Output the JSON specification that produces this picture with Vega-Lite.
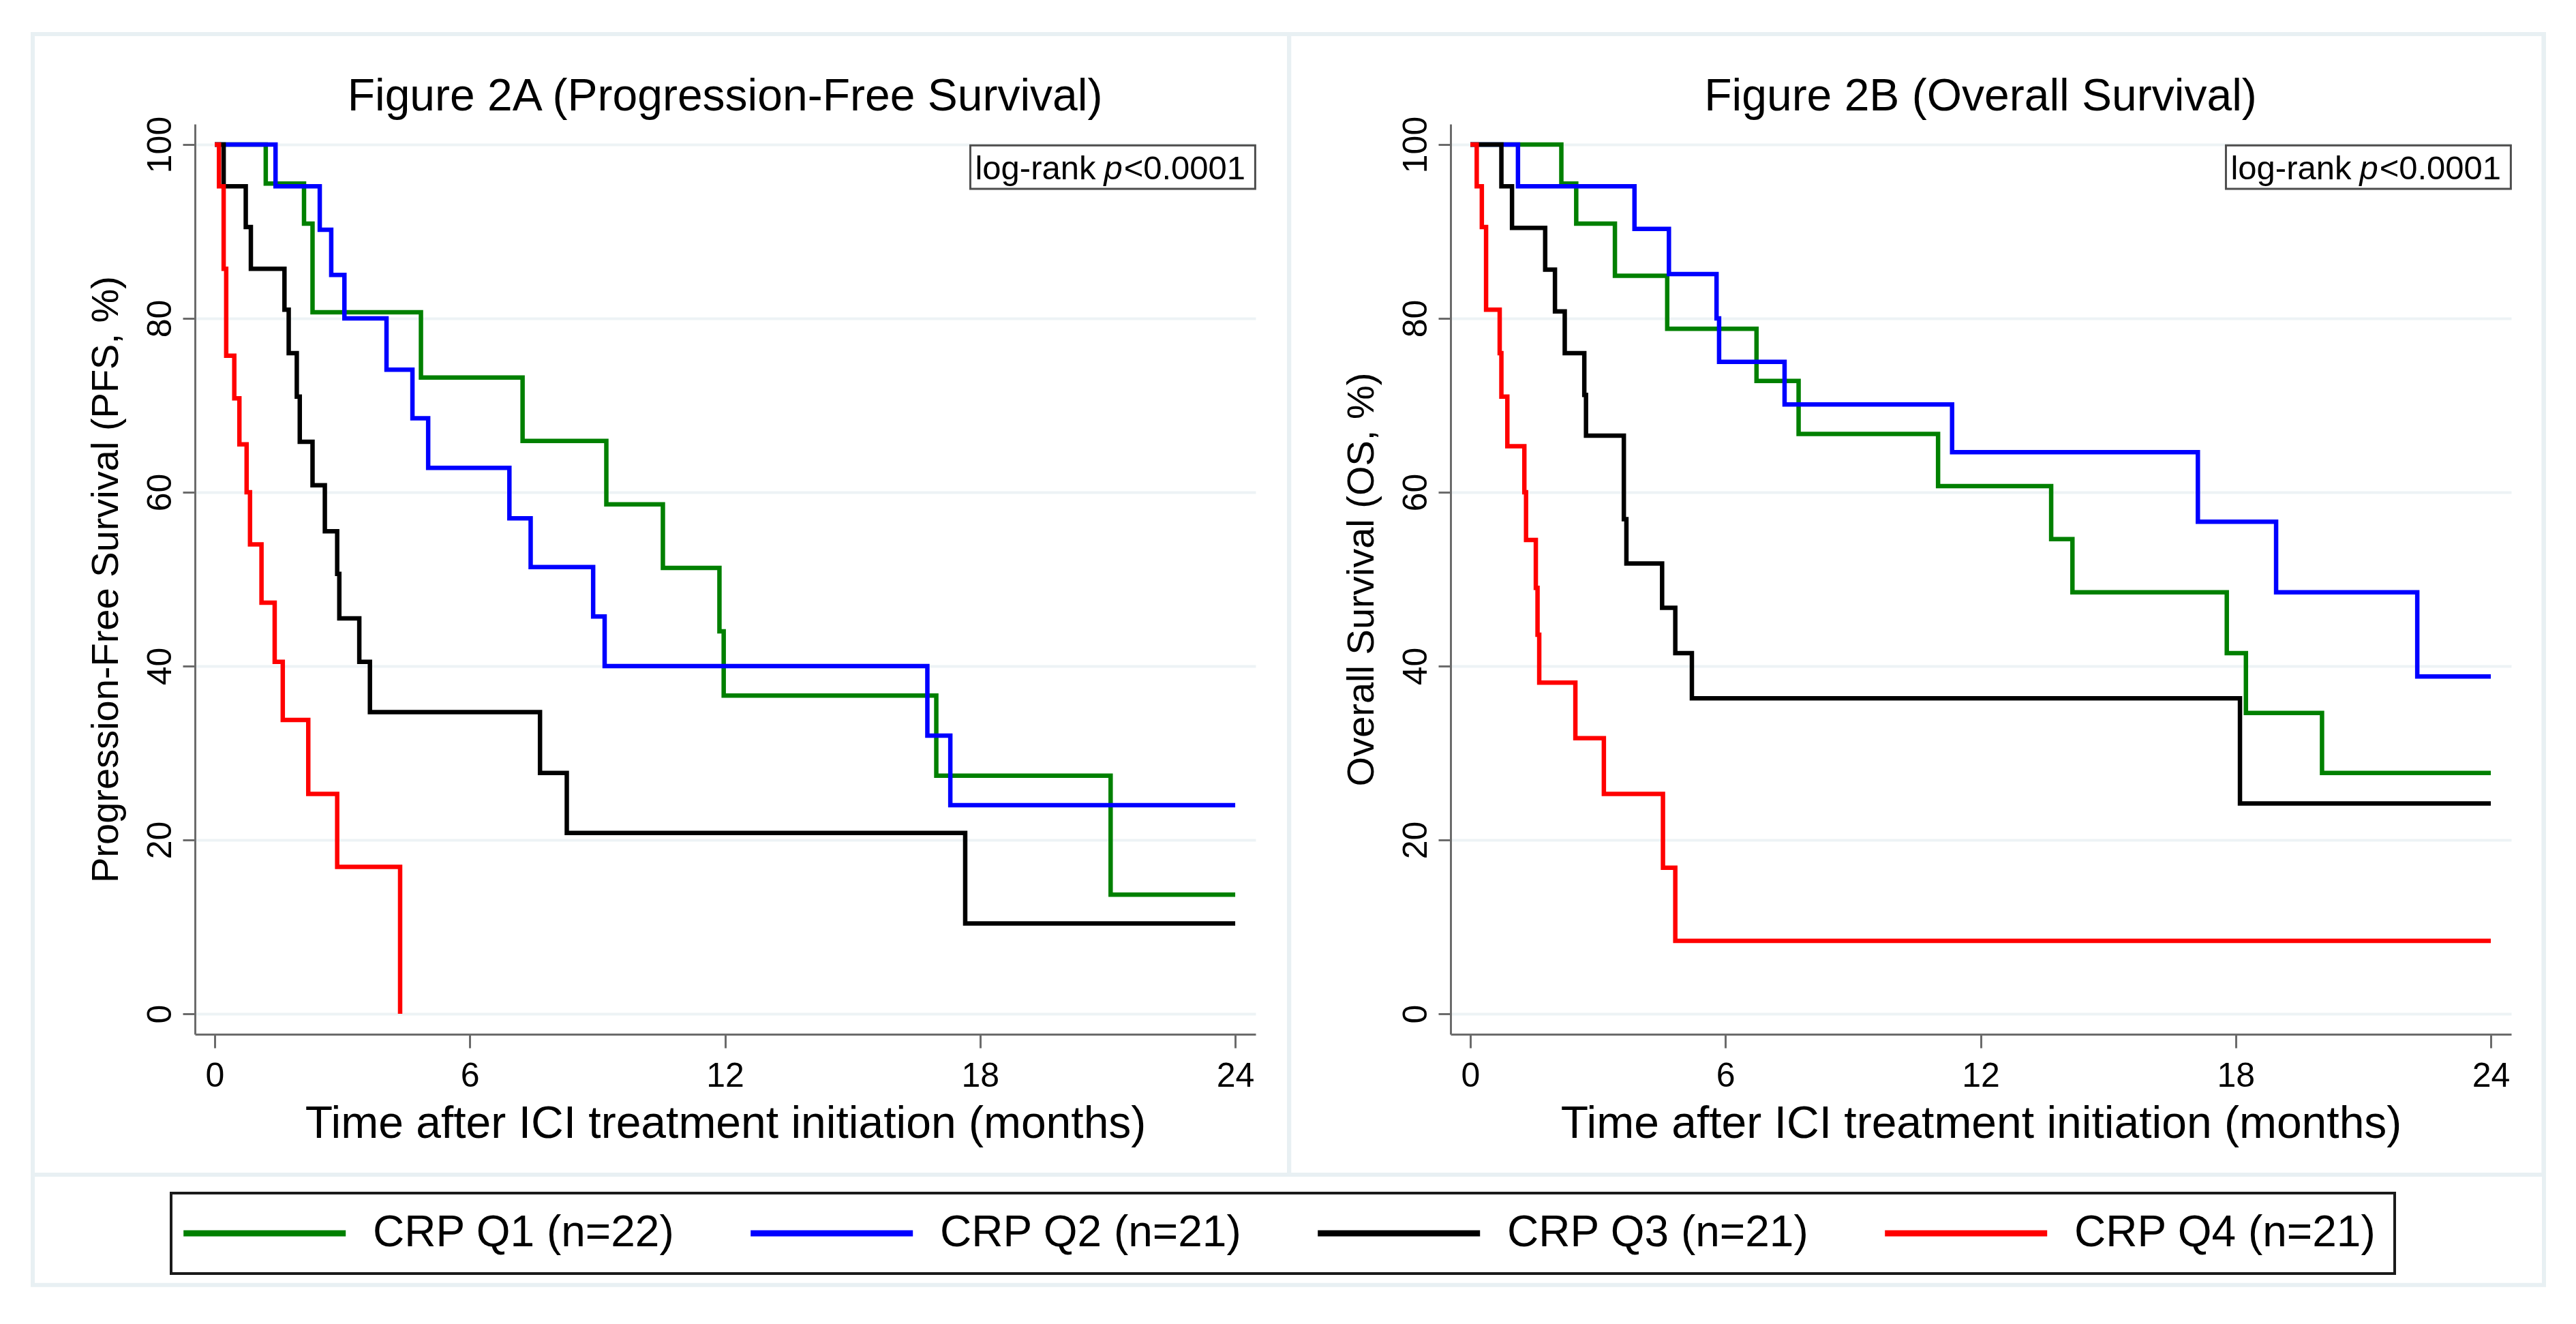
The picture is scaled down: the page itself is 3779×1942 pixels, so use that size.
{
 "$schema": "https://vega.github.io/schema/vega-lite/v6.json",
 "background": "white",
 "padding": {"left": 45, "top": 47, "right": 45, "bottom": 50},
 "bounds": "flush",
 "datasets": {
  "km": [
   {"p":"A","g":"CRP Q1 (n=22)","t":0,"s":100},{"p":"A","g":"CRP Q1 (n=22)","t":1.2,"s":95.5},{"p":"A","g":"CRP Q1 (n=22)","t":2.1,"s":90.9},{"p":"A","g":"CRP Q1 (n=22)","t":2.3,"s":80.7},{"p":"A","g":"CRP Q1 (n=22)","t":4.85,"s":73.2},{"p":"A","g":"CRP Q1 (n=22)","t":7.24,"s":65.9},{"p":"A","g":"CRP Q1 (n=22)","t":9.21,"s":58.6},{"p":"A","g":"CRP Q1 (n=22)","t":10.54,"s":51.3},{"p":"A","g":"CRP Q1 (n=22)","t":11.87,"s":44},{"p":"A","g":"CRP Q1 (n=22)","t":11.97,"s":36.6},{"p":"A","g":"CRP Q1 (n=22)","t":16.97,"s":27.4},{"p":"A","g":"CRP Q1 (n=22)","t":21.07,"s":13.7},{"p":"A","g":"CRP Q1 (n=22)","t":24,"s":13.7},
   {"p":"A","g":"CRP Q2 (n=21)","t":0,"s":100},{"p":"A","g":"CRP Q2 (n=21)","t":1.43,"s":95.2},{"p":"A","g":"CRP Q2 (n=21)","t":2.47,"s":90.2},{"p":"A","g":"CRP Q2 (n=21)","t":2.74,"s":85},{"p":"A","g":"CRP Q2 (n=21)","t":3.05,"s":80},{"p":"A","g":"CRP Q2 (n=21)","t":4.04,"s":74.1},{"p":"A","g":"CRP Q2 (n=21)","t":4.65,"s":68.5},{"p":"A","g":"CRP Q2 (n=21)","t":5.02,"s":62.8},{"p":"A","g":"CRP Q2 (n=21)","t":6.93,"s":57},{"p":"A","g":"CRP Q2 (n=21)","t":7.43,"s":51.4},{"p":"A","g":"CRP Q2 (n=21)","t":8.9,"s":45.7},{"p":"A","g":"CRP Q2 (n=21)","t":9.17,"s":40},{"p":"A","g":"CRP Q2 (n=21)","t":16.76,"s":32},{"p":"A","g":"CRP Q2 (n=21)","t":17.3,"s":24},{"p":"A","g":"CRP Q2 (n=21)","t":24,"s":24},
   {"p":"A","g":"CRP Q3 (n=21)","t":0,"s":100},{"p":"A","g":"CRP Q3 (n=21)","t":0.21,"s":95.2},{"p":"A","g":"CRP Q3 (n=21)","t":0.73,"s":90.5},{"p":"A","g":"CRP Q3 (n=21)","t":0.85,"s":85.7},{"p":"A","g":"CRP Q3 (n=21)","t":1.64,"s":81},{"p":"A","g":"CRP Q3 (n=21)","t":1.74,"s":76},{"p":"A","g":"CRP Q3 (n=21)","t":1.93,"s":71},{"p":"A","g":"CRP Q3 (n=21)","t":2.0,"s":65.8},{"p":"A","g":"CRP Q3 (n=21)","t":2.3,"s":60.8},{"p":"A","g":"CRP Q3 (n=21)","t":2.59,"s":55.5},{"p":"A","g":"CRP Q3 (n=21)","t":2.88,"s":50.6},{"p":"A","g":"CRP Q3 (n=21)","t":2.93,"s":45.5},{"p":"A","g":"CRP Q3 (n=21)","t":3.4,"s":40.5},{"p":"A","g":"CRP Q3 (n=21)","t":3.65,"s":34.7},{"p":"A","g":"CRP Q3 (n=21)","t":7.65,"s":27.7},{"p":"A","g":"CRP Q3 (n=21)","t":8.28,"s":20.8},{"p":"A","g":"CRP Q3 (n=21)","t":17.65,"s":10.4},{"p":"A","g":"CRP Q3 (n=21)","t":24,"s":10.4},
   {"p":"A","g":"CRP Q4 (n=21)","t":0,"s":100},{"p":"A","g":"CRP Q4 (n=21)","t":0.1,"s":95.2},{"p":"A","g":"CRP Q4 (n=21)","t":0.21,"s":85.7},{"p":"A","g":"CRP Q4 (n=21)","t":0.27,"s":75.7},{"p":"A","g":"CRP Q4 (n=21)","t":0.46,"s":70.8},{"p":"A","g":"CRP Q4 (n=21)","t":0.58,"s":65.5},{"p":"A","g":"CRP Q4 (n=21)","t":0.75,"s":60},{"p":"A","g":"CRP Q4 (n=21)","t":0.83,"s":54},{"p":"A","g":"CRP Q4 (n=21)","t":1.1,"s":47.3},{"p":"A","g":"CRP Q4 (n=21)","t":1.41,"s":40.5},{"p":"A","g":"CRP Q4 (n=21)","t":1.6,"s":33.8},{"p":"A","g":"CRP Q4 (n=21)","t":2.2,"s":25.3},{"p":"A","g":"CRP Q4 (n=21)","t":2.88,"s":16.9},{"p":"A","g":"CRP Q4 (n=21)","t":4.36,"s":0},
   {"p":"B","g":"CRP Q1 (n=22)","t":0,"s":100},{"p":"B","g":"CRP Q1 (n=22)","t":2.14,"s":95.5},{"p":"B","g":"CRP Q1 (n=22)","t":2.49,"s":90.9},{"p":"B","g":"CRP Q1 (n=22)","t":3.4,"s":84.9},{"p":"B","g":"CRP Q1 (n=22)","t":4.63,"s":78.8},{"p":"B","g":"CRP Q1 (n=22)","t":6.73,"s":72.8},{"p":"B","g":"CRP Q1 (n=22)","t":7.72,"s":66.7},{"p":"B","g":"CRP Q1 (n=22)","t":11.0,"s":60.7},{"p":"B","g":"CRP Q1 (n=22)","t":13.66,"s":54.6},{"p":"B","g":"CRP Q1 (n=22)","t":14.16,"s":48.5},{"p":"B","g":"CRP Q1 (n=22)","t":17.79,"s":41.5},{"p":"B","g":"CRP Q1 (n=22)","t":18.24,"s":34.6},{"p":"B","g":"CRP Q1 (n=22)","t":20.03,"s":27.7},{"p":"B","g":"CRP Q1 (n=22)","t":24,"s":27.7},
   {"p":"B","g":"CRP Q2 (n=21)","t":0,"s":100},{"p":"B","g":"CRP Q2 (n=21)","t":1.12,"s":95.2},{"p":"B","g":"CRP Q2 (n=21)","t":3.86,"s":90.3},{"p":"B","g":"CRP Q2 (n=21)","t":4.67,"s":85.1},{"p":"B","g":"CRP Q2 (n=21)","t":5.79,"s":80},{"p":"B","g":"CRP Q2 (n=21)","t":5.85,"s":75},{"p":"B","g":"CRP Q2 (n=21)","t":7.39,"s":70.1},{"p":"B","g":"CRP Q2 (n=21)","t":11.33,"s":64.6},{"p":"B","g":"CRP Q2 (n=21)","t":17.11,"s":56.6},{"p":"B","g":"CRP Q2 (n=21)","t":18.95,"s":48.5},{"p":"B","g":"CRP Q2 (n=21)","t":22.27,"s":38.8},{"p":"B","g":"CRP Q2 (n=21)","t":24,"s":38.8},
   {"p":"B","g":"CRP Q3 (n=21)","t":0,"s":100},{"p":"B","g":"CRP Q3 (n=21)","t":0.73,"s":95.2},{"p":"B","g":"CRP Q3 (n=21)","t":0.98,"s":90.4},{"p":"B","g":"CRP Q3 (n=21)","t":1.76,"s":85.6},{"p":"B","g":"CRP Q3 (n=21)","t":1.99,"s":80.8},{"p":"B","g":"CRP Q3 (n=21)","t":2.22,"s":76},{"p":"B","g":"CRP Q3 (n=21)","t":2.68,"s":71.2},{"p":"B","g":"CRP Q3 (n=21)","t":2.72,"s":66.5},{"p":"B","g":"CRP Q3 (n=21)","t":3.61,"s":56.9},{"p":"B","g":"CRP Q3 (n=21)","t":3.67,"s":51.8},{"p":"B","g":"CRP Q3 (n=21)","t":4.51,"s":46.7},{"p":"B","g":"CRP Q3 (n=21)","t":4.82,"s":41.5},{"p":"B","g":"CRP Q3 (n=21)","t":5.21,"s":36.3},{"p":"B","g":"CRP Q3 (n=21)","t":18.1,"s":24.2},{"p":"B","g":"CRP Q3 (n=21)","t":24,"s":24.2},
   {"p":"B","g":"CRP Q4 (n=21)","t":0,"s":100},{"p":"B","g":"CRP Q4 (n=21)","t":0.15,"s":95.2},{"p":"B","g":"CRP Q4 (n=21)","t":0.27,"s":90.5},{"p":"B","g":"CRP Q4 (n=21)","t":0.37,"s":81},{"p":"B","g":"CRP Q4 (n=21)","t":0.69,"s":76},{"p":"B","g":"CRP Q4 (n=21)","t":0.73,"s":71},{"p":"B","g":"CRP Q4 (n=21)","t":0.87,"s":65.3},{"p":"B","g":"CRP Q4 (n=21)","t":1.27,"s":60},{"p":"B","g":"CRP Q4 (n=21)","t":1.31,"s":54.5},{"p":"B","g":"CRP Q4 (n=21)","t":1.54,"s":49},{"p":"B","g":"CRP Q4 (n=21)","t":1.58,"s":43.6},{"p":"B","g":"CRP Q4 (n=21)","t":1.62,"s":38.1},{"p":"B","g":"CRP Q4 (n=21)","t":2.47,"s":31.7},{"p":"B","g":"CRP Q4 (n=21)","t":3.14,"s":25.3},{"p":"B","g":"CRP Q4 (n=21)","t":4.53,"s":16.8},{"p":"B","g":"CRP Q4 (n=21)","t":4.82,"s":8.4},{"p":"B","g":"CRP Q4 (n=21)","t":24,"s":8.4}
  ]
 },
 "config": {
  "font": "Liberation Sans",
  "view": {"stroke": null},
  "axis": {"domainColor": "#6b6b6b", "domainWidth": 3, "tickColor": "#6b6b6b", "tickWidth": 3, "labelFontSize": 50, "labelColor": "#000000", "titleFontSize": 66, "titleFontWeight": "normal", "titleColor": "#000000", "gridColor": "#edf3f5", "gridWidth": 4, "format": "d"},
  "axisX": {"grid": false, "tickSize": 20, "labelPadding": 16, "titlePadding": 13},
  "axisY": {"grid": true, "tickSize": 18, "labelAngle": 270, "labelAlign": "center", "labelBaseline": "bottom", "labelPadding": 8, "titlePadding": 26, "titleFontSize": 56},
  "legend": {"orient": "none", "legendX": -35, "legendY": 1568, "columns": 4, "direction": "horizontal", "symbolType": "M-1,0H9", "symbolSize": 2266, "symbolStrokeWidth": 9, "symbolOffset": -17, "labelFontSize": 64, "labelColor": "#000000", "labelLimit": 0, "labelOffset": 222, "strokeColor": "#1a1a1a", "strokeWidth": 4, "fillColor": "white", "padding": 27, "columnPadding": 93, "title": null}
 },
 "spacing": 286,
 "resolve": {"scale": {"color": "shared"}},
 "hconcat": [
  {
   "width": 1556, "height": 1335,
   "layer": [
    {
     "data": {"values": [{}]},
     "mark": {"type": "rect", "filled": false, "stroke": "#e8f0f3", "strokeWidth": 6, "clip": false},
     "encoding": {"x": {"datum": -4.28, "scale": {"domain": [-0.465, 24.48]}}, "x2": {"datum": 54.78}, "y": {"datum": 112.7, "scale": {"domain": [-2.35, 102.35]}}, "y2": {"datum": -31.2}}
    },
    {
     "data": {"values": [{}]},
     "mark": {"type": "rect", "filled": false, "stroke": "#e8f0f3", "strokeWidth": 6, "clip": false},
     "encoding": {"x": {"datum": -4.28, "scale": {"domain": [-0.465, 24.48]}}, "x2": {"datum": 25.27}, "y": {"datum": 112.7, "scale": {"domain": [-2.35, 102.35]}}, "y2": {"datum": -18.5}}
    },
    {
     "data": {"name": "km"},
     "transform": [{"filter": "datum.p == 'A'"}],
     "mark": {"type": "line", "interpolate": "step-after", "strokeWidth": 6.5},
     "encoding": {
      "x": {"field": "t", "type": "quantitative", "scale": {"domain": [-0.465, 24.48], "nice": false, "zero": false}, "axis": {"values": [0, 6, 12, 18, 24], "title": "Time after ICI treatment initiation (months)"}},
      "y": {"field": "s", "type": "quantitative", "scale": {"domain": [-2.35, 102.35], "nice": false, "zero": false}, "axis": {"values": [0, 20, 40, 60, 80, 100], "title": "Progression-Free Survival (PFS, %)"}},
      "color": {"field": "g", "type": "nominal", "scale": {"domain": ["CRP Q1 (n=22)", "CRP Q2 (n=21)", "CRP Q3 (n=21)", "CRP Q4 (n=21)"], "range": ["#008000", "#0000ff", "#000000", "#ff0000"]}, "legend": {"title": null}}
     }
    },
    {
     "data": {"values": [{}]},
     "mark": {"type": "text", "text": "Figure 2A (Progression-Free Survival)", "align": "center", "baseline": "alphabetic", "fontSize": 66, "color": "#000000"},
     "encoding": {"x": {"datum": 12.0}, "y": {"datum": 103.9}}
    },
    {
     "data": {"values": [{}]},
     "mark": {"type": "rect", "fill": "white", "stroke": "#4d4d4d", "strokeWidth": 3},
     "encoding": {"x": {"datum": 17.77}, "x2": {"datum": 24.47}, "y": {"datum": 99.9}, "y2": {"datum": 94.9}}
    },
    {
     "data": {"values": [{}]},
     "mark": {"type": "text", "text": "log-rank", "align": "right", "baseline": "middle", "fontSize": 49, "color": "#000000"},
     "encoding": {"x": {"datum": 20.72}, "y": {"datum": 97.2}}
    },
    {
     "data": {"values": [{}]},
     "mark": {"type": "text", "text": "p", "align": "center", "baseline": "middle", "fontSize": 49, "fontStyle": "italic", "color": "#000000"},
     "encoding": {"x": {"datum": 21.13}, "y": {"datum": 97.2}}
    },
    {
     "data": {"values": [{}]},
     "mark": {"type": "text", "text": "<0.0001", "align": "left", "baseline": "middle", "fontSize": 49, "color": "#000000"},
     "encoding": {"x": {"datum": 21.38}, "y": {"datum": 97.2}}
    }
   ]
  },
  {
   "width": 1556, "height": 1335,
   "layer": [
    {
     "data": {"values": [{}]},
     "mark": {"type": "rect", "filled": false, "stroke": "#e8f0f3", "strokeWidth": 6, "clip": false},
     "encoding": {"x": {"datum": -4.265, "scale": {"domain": [-0.465, 24.48]}}, "x2": {"datum": 25.24}, "y": {"datum": 112.7, "scale": {"domain": [-2.35, 102.35]}}, "y2": {"datum": -18.5}}
    },
    {
     "data": {"name": "km"},
     "transform": [{"filter": "datum.p == 'B'"}],
     "mark": {"type": "line", "interpolate": "step-after", "strokeWidth": 6.5},
     "encoding": {
      "x": {"field": "t", "type": "quantitative", "scale": {"domain": [-0.465, 24.48], "nice": false, "zero": false}, "axis": {"values": [0, 6, 12, 18, 24], "title": "Time after ICI treatment initiation (months)"}},
      "y": {"field": "s", "type": "quantitative", "scale": {"domain": [-2.35, 102.35], "nice": false, "zero": false}, "axis": {"values": [0, 20, 40, 60, 80, 100], "title": "Overall Survival (OS, %)"}},
      "color": {"field": "g", "type": "nominal", "scale": {"domain": ["CRP Q1 (n=22)", "CRP Q2 (n=21)", "CRP Q3 (n=21)", "CRP Q4 (n=21)"], "range": ["#008000", "#0000ff", "#000000", "#ff0000"]}, "legend": {"title": null}}
     }
    },
    {
     "data": {"values": [{}]},
     "mark": {"type": "text", "text": "Figure 2B (Overall Survival)", "align": "center", "baseline": "alphabetic", "fontSize": 66, "color": "#000000"},
     "encoding": {"x": {"datum": 12.0}, "y": {"datum": 103.9}}
    },
    {
     "data": {"values": [{}]},
     "mark": {"type": "rect", "fill": "white", "stroke": "#4d4d4d", "strokeWidth": 3},
     "encoding": {"x": {"datum": 17.77}, "x2": {"datum": 24.47}, "y": {"datum": 99.9}, "y2": {"datum": 94.9}}
    },
    {
     "data": {"values": [{}]},
     "mark": {"type": "text", "text": "log-rank", "align": "right", "baseline": "middle", "fontSize": 49, "color": "#000000"},
     "encoding": {"x": {"datum": 20.72}, "y": {"datum": 97.2}}
    },
    {
     "data": {"values": [{}]},
     "mark": {"type": "text", "text": "p", "align": "center", "baseline": "middle", "fontSize": 49, "fontStyle": "italic", "color": "#000000"},
     "encoding": {"x": {"datum": 21.13}, "y": {"datum": 97.2}}
    },
    {
     "data": {"values": [{}]},
     "mark": {"type": "text", "text": "<0.0001", "align": "left", "baseline": "middle", "fontSize": 49, "color": "#000000"},
     "encoding": {"x": {"datum": 21.38}, "y": {"datum": 97.2}}
    }
   ]
  }
 ]
}
